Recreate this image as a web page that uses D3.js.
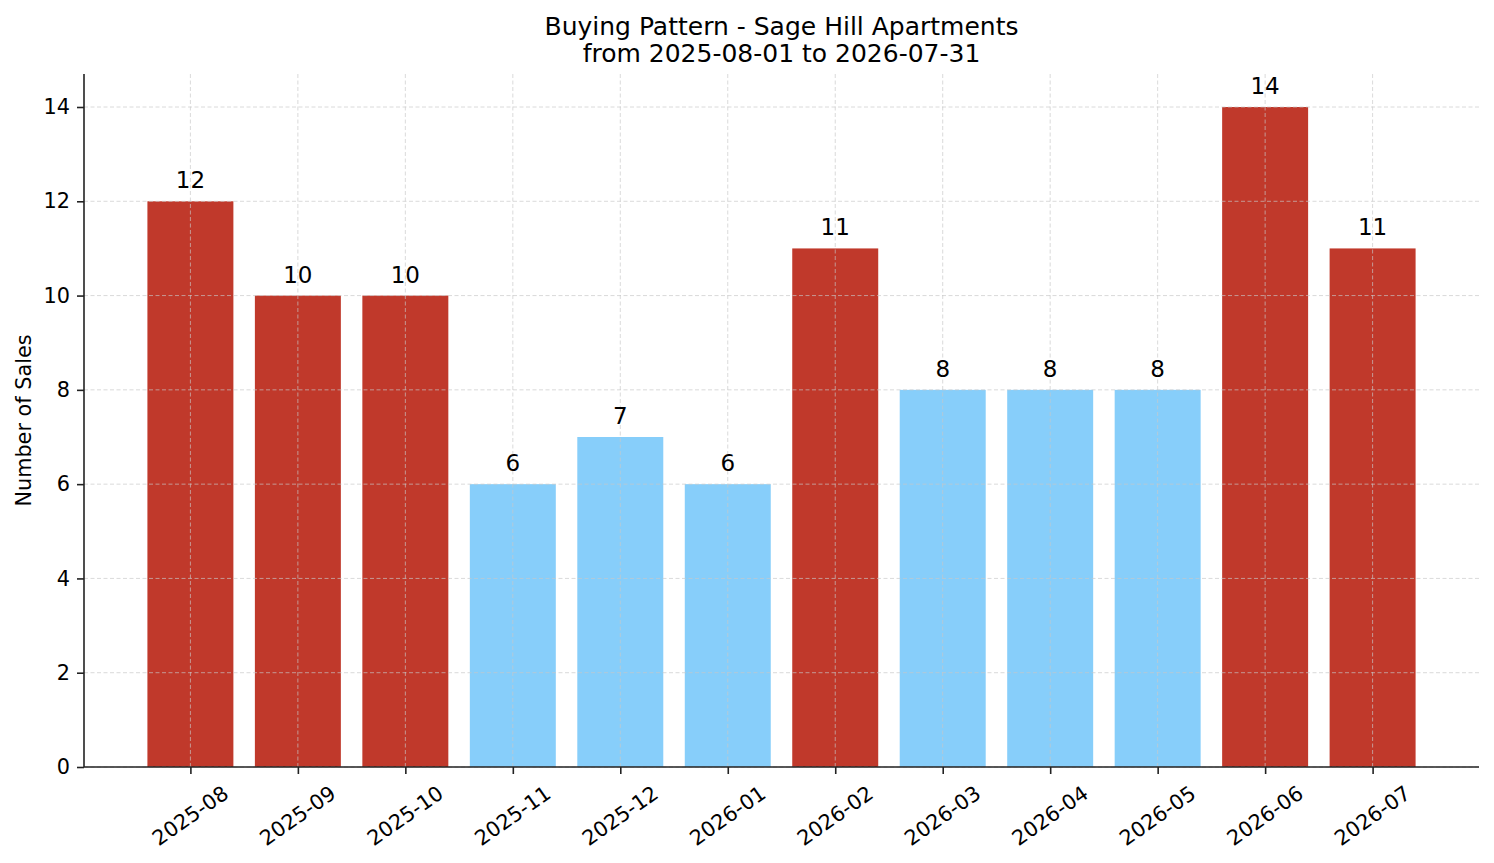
<!DOCTYPE html>
<html>
<head>
<meta charset="utf-8">
<script src="https://cdn.jsdelivr.net/npm/d3@7"></script>
<style>
  body { margin: 0; background: #fff; }
  text { font-family: "DejaVu Sans", sans-serif; fill: #000; }
</style>
</head>
<body>
<div id="chart"></div>
<script>
const months = ['2025-08', '2025-09', '2025-10', '2025-11', '2025-12', '2026-01',
    '2026-02', '2026-03', '2026-04', '2026-05', '2026-06', '2026-07']
const sales = [12, 10, 10, 6, 7, 6, 11, 8, 8, 8, 14, 11]
const yTicks = [0, 2, 4, 6, 8, 10, 12, 14]
const titleLines = ['Buying Pattern - Sage Hill Apartments', 'from 2025-08-01 to 2026-07-31']
const yLabel = 'Number of Sales'

const renderChart = () => {
    const svgWidth = 1494
    const svgHeight = 863

    // space around the plot area for titles and tick labels
    const margin = { top: 74, right: 15, bottom: 96, left: 84 }
    const innerWidth = svgWidth - margin.left - margin.right
    const innerHeight = svgHeight - margin.top - margin.bottom

    const highColor = '#c0392b'
    const lowColor = '#87cefa'
    const threshold = 10 //months at or above this are red

    // index scale with matplotlib style padding on both ends
    const xScale = d3.scaleLinear()
        .domain([-0.99, months.length - 1 + 0.99])
        .range([0, innerWidth])
    const barWidth = xScale(0.8) - xScale(0)

    const yScale = d3.scaleLinear()
        .domain([0, 14.7])
        .range([innerHeight, 0])

    const svg = d3.select('#chart')
        .append('svg')
            .attr('width', svgWidth)
            .attr('height', svgHeight)

    const g = svg.append('g')
        .attr('transform', `translate(${margin.left}, ${margin.top})`)

    // bars
    g.selectAll('.bar')
        .data(sales)
        .enter()
        .append('rect')
            .attr('class', 'bar')
            .attr('x', (d, i) => xScale(i) - barWidth / 2)
            .attr('y', d => yScale(d))
            .attr('width', barWidth)
            .attr('height', d => yScale(0) - yScale(d))
            .attr('fill', d => d >= threshold ? highColor : lowColor)

    // dashed grid drawn over the bars
    const grid = g.append('g')
        .attr('stroke', '#c8c8c8')
        .attr('stroke-opacity', 0.75)
        .attr('stroke-width', 0.9)
        .attr('stroke-dasharray', '4,2.5')
    grid.selectAll('.hgrid')
        .data(yTicks)
        .enter()
        .append('line')
            .attr('x1', 0)
            .attr('x2', innerWidth)
            .attr('y1', d => yScale(d))
            .attr('y2', d => yScale(d))
    grid.selectAll('.vgrid')
        .data(months)
        .enter()
        .append('line')
            .attr('x1', (d, i) => xScale(i))
            .attr('x2', (d, i) => xScale(i))
            .attr('y1', 0)
            .attr('y2', innerHeight)

    // value labels
    g.selectAll('.value')
        .data(sales)
        .enter()
        .append('text')
            .attr('x', (d, i) => xScale(i))
            .attr('y', d => yScale(d) - 13)
            .attr('text-anchor', 'middle')
            .style('font-size', '23px')
            .text(d => d)

    // y axis
    const yAxis = d3.axisLeft(yScale)
        .tickValues(yTicks)
        .tickSize(7)
        .tickPadding(7)
    const yAxisG = g.append('g').call(yAxis)
    yAxisG.select('.domain').attr('d', `M0,${innerHeight}V0`)

    // x axis with index ticks
    const xAxis = d3.axisBottom(xScale)
        .tickValues(d3.range(months.length))
        .tickFormat('')
        .tickSize(7)
    const xAxisG = g.append('g')
        .attr('transform', `translate(0, ${innerHeight})`)
        .call(xAxis)
    xAxisG.select('.domain').attr('d', `M0,0H${innerWidth}`)

    g.selectAll('.domain').attr('stroke', '#222').attr('stroke-width', 1.6)
    g.selectAll('.tick line').attr('stroke', '#222').attr('stroke-width', 1.6)
    yAxisG.selectAll('.tick text')
        .style('font-size', '20.8px')
        .style('font-family', '"DejaVu Sans", sans-serif')
        .attr('fill', '#000')

    // rotated month labels, centred under each tick
    const angle = 35 * Math.PI / 180
    const labelSize = 20.8
    const labelTop = innerHeight + 7 + 7
    const monthLabels = g.selectAll('.month')
        .data(months)
        .enter()
        .append('text')
            .attr('class', 'month')
            .attr('text-anchor', 'middle')
            .attr('dominant-baseline', 'central')
            .style('font-size', labelSize + 'px')
            .text(d => d)
    monthLabels.each(function(d, i) {
        const w = this.getComputedTextLength()
        const h = labelSize * 1.16
        const boxH = w * Math.sin(angle) + h * Math.cos(angle)
        const cx = xScale(i)
        const cy = labelTop + boxH / 2
        d3.select(this)
            .attr('x', cx)
            .attr('y', cy)
            .attr('transform', `rotate(-35, ${cx}, ${cy})`)
    })

    // axis title
    svg.append('text')
        .attr('transform', `translate(24, ${margin.top + innerHeight / 2}) rotate(-90)`)
        .attr('text-anchor', 'middle')
        .attr('dominant-baseline', 'central')
        .style('font-size', '20.8px')
        .text(yLabel)

    // chart title
    svg.selectAll('.title')
        .data(titleLines)
        .enter()
        .append('text')
            .attr('x', margin.left + innerWidth / 2)
            .attr('y', (d, i) => 35 + i * 27)
            .attr('text-anchor', 'middle')
            .style('font-size', '25px')
            .text(d => d)
}

renderChart()
</script>
</body>
</html>
